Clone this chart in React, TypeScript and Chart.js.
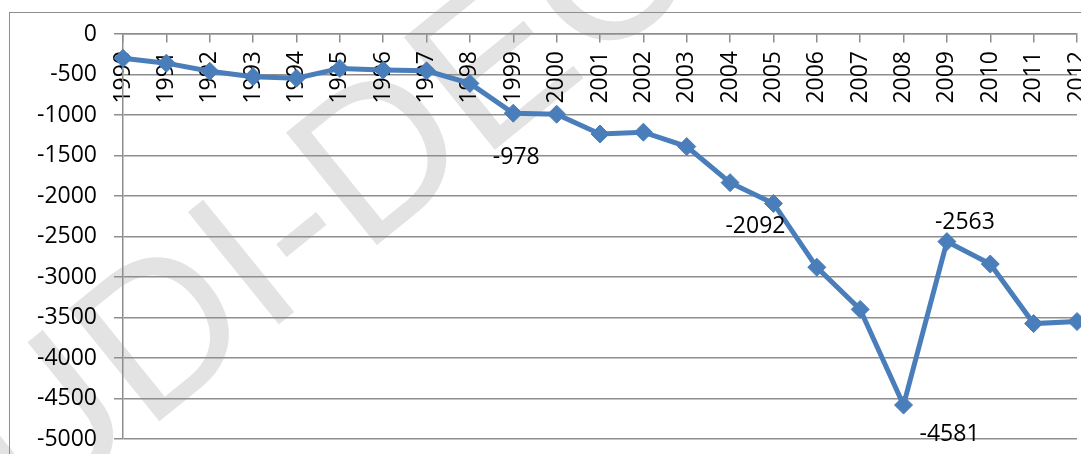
import React, { useEffect, useRef } from "react";
import { Chart, registerables } from "chart.js";

Chart.register(...registerables);

const years: string[] = [
  "1990", "1991", "1992", "1993", "1994", "1995", "1996", "1997", "1998", "1999",
  "2000", "2001", "2002", "2003", "2004", "2005", "2006", "2007", "2008", "2009",
  "2010", "2011", "2012",
];

const balance: number[] = [
  -300, -360, -460, -527, -545, -425, -445, -455, -610, -978,
  -990, -1235, -1212, -1390, -1835, -2092, -2880, -3400, -4581, -2563,
  -2840, -3575, -3550,
];

const labelledYears: string[] = ["1999", "2005", "2008", "2009"];

const yMin = -5000;
const yMax = 0;
const yStep = 500;

const watermarkText = "UDI-DEC";

const FONT = "'Open Sans', 'Liberation Sans', sans-serif";
const BLUE = "#4A7EBB";
const GRID = "#8E8E8E";

// offsets of each data label from its point (Excel placed them by hand)
const labelOffsets: Record<string, [number, number]> = {
  "1999": [3, 44],
  "2005": [-18, 23],
  "2008": [46, 29],
  "2009": [18, -19],
};

export default function App() {
  const ref = useRef<HTMLCanvasElement>(null);

  useEffect(() => {
    document.body.style.margin = "0";
    const canvas = ref.current;
    if (!canvas) return;

    const frame = {
      id: "frame",
      beforeDraw(chart: any) {
        const ctx = chart.ctx;
        ctx.save();
        ctx.fillStyle = "#ffffff";
        ctx.fillRect(0, 0, chart.width, chart.height);
        // faint diagonal watermark of the source document
        ctx.save();
        ctx.translate(146, 432);
        ctx.rotate((-39 * Math.PI) / 180);
        ctx.font = "210px 'Liberation Sans', sans-serif";
        ctx.fillStyle = "#e3e3e3";
        ctx.textBaseline = "alphabetic";
        ctx.textAlign = "left";
        const lead = ctx.measureText(watermarkText.slice(0, 1)).width;
        ctx.fillText(watermarkText, -lead, 0);
        ctx.restore();
        ctx.strokeStyle = GRID;
        ctx.lineWidth = 1;
        ctx.strokeRect(9.5, 12.5, chart.width + 50, chart.height + 50);
        ctx.restore();
      },
    };

    const dataLabels = {
      id: "dataLabels",
      afterDatasetsDraw(chart: any) {
        const ctx = chart.ctx;
        const meta = chart.getDatasetMeta(0);
        ctx.save();
        ctx.font = `23px ${FONT}`;
        ctx.fillStyle = "#000000";
        ctx.textAlign = "center";
        ctx.textBaseline = "middle";
        labelledYears.forEach((yr) => {
          const i = years.indexOf(yr);
          const pt = meta.data[i];
          const off = labelOffsets[yr] || [0, 0];
          ctx.fillText(String(balance[i]), pt.x + off[0], pt.y + off[1]);
        });
        ctx.restore();
      },
    };

    const chart = new Chart(canvas, {
      type: "line",
      data: {
        labels: years,
        datasets: [
          {
            data: balance,
            borderColor: BLUE,
            backgroundColor: BLUE,
            borderWidth: 5,
            pointStyle: "rectRot",
            pointRadius: 9,
            pointBorderWidth: 1,
            pointBackgroundColor: BLUE,
            pointBorderColor: BLUE,
            tension: 0,
            clip: false,
          } as any,
        ],
      },
      options: {
        animation: false,
        responsive: false,
        devicePixelRatio: 1,
        layout: { autoPadding: false, padding: { top: 34, left: 0, right: 4, bottom: 15 } } as any,
        plugins: { legend: { display: false }, tooltip: { enabled: false } },
        scales: {
          x: {
            type: "category",
            position: { y: 0 } as any,
            offset: false,
            grid: {
              display: true,
              drawOnChartArea: false,
              drawTicks: true,
              tickLength: 17,
              tickBorderDash: [8, 200],
              color: GRID,
              lineWidth: 1.5,
            },
            border: { display: true, color: GRID, width: 1.5 },
            ticks: {
              color: "#000000",
              font: { family: FONT, size: 23 },
              maxRotation: 90,
              minRotation: 90,
              padding: 0,
              autoSkip: false,
            },
            afterFit(scale: any) {
              scale.height = 0;
              scale.paddingLeft = 0;
              scale.paddingRight = 0;
              scale.paddingTop = 0;
              scale.paddingBottom = 0;
            },
          },
          y: {
            min: yMin,
            max: yMax,
            ticks: {
              stepSize: yStep,
              color: "#000000",
              font: { family: FONT, size: 23 },
              padding: 17,
              callback: (v: any) => String(v),
            },
            grid: {
              color: GRID,
              lineWidth: 1.5,
              tickLength: 9,
              drawTicks: true,
            },
            border: { display: true, color: GRID, width: 1.5 },
            afterFit(scale: any) {
              scale.width = 123;
              scale.paddingTop = 0;
              scale.paddingBottom = 0;
              scale.paddingLeft = 0;
              scale.paddingRight = 0;
            },
          },
        },
      },
      plugins: [frame, dataLabels],
    });

    return () => chart.destroy();
  }, []);

  return (
    <div style={{ width: 1081, height: 454 }}>
      <canvas ref={ref} width={1081} height={454} style={{ display: "block" }} />
    </div>
  );
}
